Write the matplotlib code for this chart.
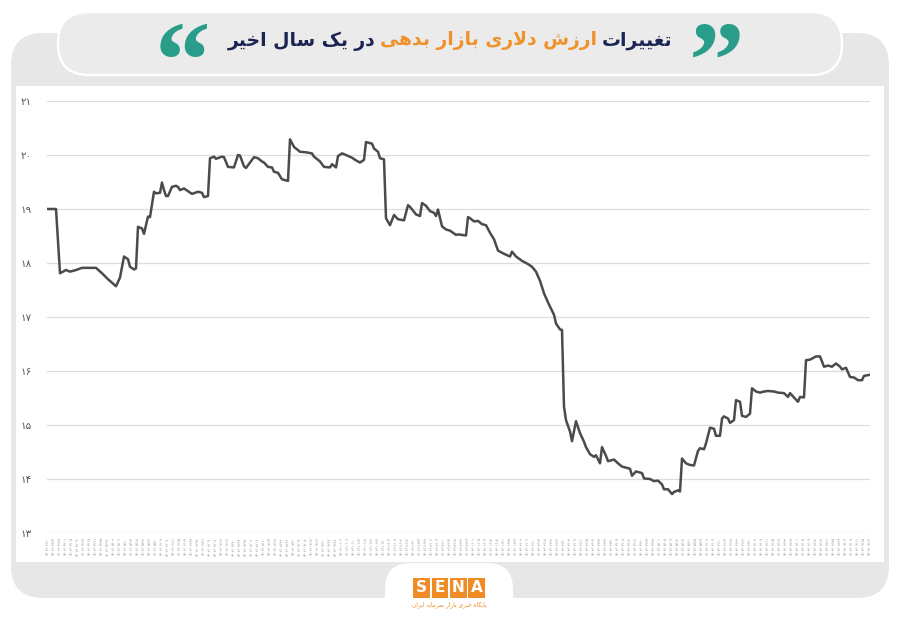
"""
Debt market dollar value over the last year (SENA style card).
"""

import matplotlib
matplotlib.use("Agg")
import matplotlib.pyplot as plt
from matplotlib.patches import FancyBboxPatch, Rectangle

W, H = 900, 623

# ── data (trading-day index, value) ─────────────────────────────────────────
DAYS = [
    0, 4, 6, 9, 11, 14, 17, 24, 27, 30, 34, 36, 38, 40, 41, 43, 44, 45, 47, 48,
    50, 51, 53, 54, 56, 57, 58, 59, 60, 62, 64, 65, 66, 68, 70, 72, 75, 77, 78,
    80, 81, 83, 84, 87, 88, 90, 93, 95, 96, 98, 99, 101, 103, 105, 107, 108,
    110, 112, 113, 115, 117, 120, 121, 123, 126, 129, 132, 133, 136, 138, 141,
    142, 144, 145, 147, 149, 152, 154, 156, 158, 159, 162, 163, 165, 166, 168,
    169, 171, 173, 175, 178, 180, 181, 184, 186, 187, 189, 191, 193, 194, 195,
    197, 199, 201, 204, 205, 209, 210, 211, 213, 215, 217, 219, 221, 223, 225,
    228, 231, 232, 234, 237, 240, 242, 244, 246, 248, 250, 253, 254, 256, 257,
    258, 259, 261, 262, 264, 266, 268, 269, 271, 273, 274, 276, 277, 279, 280,
    283, 285, 287, 289, 291, 292, 294, 297, 298, 301, 303, 305, 307, 308, 310,
    312, 313, 315, 316, 317, 319, 321, 323, 325, 326, 328, 329, 331, 333, 334,
    336, 337, 338, 340, 341, 343, 344, 346, 347, 349, 351, 352, 354, 356, 358,
    360, 363, 365, 368, 370, 371, 373, 375, 376, 378, 379, 381, 384, 386, 388,
    390, 392, 394, 396, 397, 399, 401, 403, 405, 407, 408, 411,
]
VALUES = [
    19.00, 19.00, 17.81, 17.87, 17.84, 17.87, 17.91, 17.91, 17.81, 17.70,
    17.57, 17.73, 18.12, 18.07, 17.93, 17.88, 17.90, 18.67, 18.64, 18.54,
    18.86, 18.85, 19.32, 19.29, 19.30, 19.49, 19.35, 19.24, 19.24, 19.41,
    19.43, 19.41, 19.35, 19.38, 19.33, 19.28, 19.32, 19.30, 19.22, 19.24,
    19.94, 19.97, 19.93, 19.97, 19.96, 19.78, 19.77, 20.00, 19.99, 19.79,
    19.76, 19.86, 19.96, 19.94, 19.88, 19.86, 19.78, 19.77, 19.69, 19.67,
    19.55, 19.52, 20.29, 20.15, 20.06, 20.05, 20.03, 19.97, 19.88, 19.78,
    19.77, 19.83, 19.77, 19.98, 20.03, 20.00, 19.95, 19.90, 19.86, 19.91,
    20.24, 20.21, 20.12, 20.06, 19.94, 19.92, 18.83, 18.70, 18.89, 18.81,
    18.79, 19.07, 19.04, 18.90, 18.87, 19.11, 19.06, 18.96, 18.93, 18.87,
    18.99, 18.68, 18.62, 18.60, 18.52, 18.53, 18.51, 18.85, 18.83, 18.77,
    18.78, 18.72, 18.70, 18.56, 18.44, 18.23, 18.17, 18.12, 18.21, 18.12,
    18.04, 17.98, 17.93, 17.84, 17.67, 17.44, 17.27, 17.04, 16.88, 16.77,
    16.76, 15.34, 15.09, 14.88, 14.70, 15.07, 14.85, 14.69, 14.59, 14.46,
    14.41, 14.44, 14.29, 14.59, 14.43, 14.33, 14.36, 14.29, 14.23, 14.21,
    14.19, 14.06, 14.14, 14.11, 14.01, 14.00, 13.96, 13.97, 13.90, 13.81,
    13.81, 13.72, 13.76, 13.79, 13.77, 14.38, 14.29, 14.26, 14.25, 14.52,
    14.57, 14.55, 14.66, 14.95, 14.93, 14.80, 14.80, 15.12, 15.16, 15.12,
    15.04, 15.09, 15.46, 15.43, 15.17, 15.15, 15.21, 15.68, 15.62, 15.60,
    15.62, 15.63, 15.62, 15.60, 15.59, 15.52, 15.59, 15.51, 15.43, 15.52,
    15.51, 16.20, 16.21, 16.27, 16.27, 16.08, 16.10, 16.08, 16.14, 16.08,
    16.03, 16.06, 15.89, 15.88, 15.83, 15.83, 15.91, 15.93,
]
Y_TICKS = [13, 14, 15, 16, 17, 18, 19, 20, 21]
TICK_STEP = 3            # one date label every 3 trading days
START_DATE = (1402, 3, 20)

TITLE_PARTS = [          # right to left
    ("تغییرات", "#1c2551"),
    ("ارزش دلاری بازار بدهی", "#f0922b"),
    ("در یک سال اخیر", "#1c2551"),
]
LOGO_LETTERS = ["S", "E", "N", "A"]
LOGO_SUB = "پایگاه خبری بازار سرمایه ایران"

ORANGE = "#f08c25"
TEAL = "#2a9d8a"
PANEL = "#e7e7e8"
LINE = "#4b4b4b"


# ── helpers ──────────────────────────────────────────────────────────────────
FORMS = {   # isolated, final, initial, medial
    "\u0627": ("\uFE8D", "\uFE8E", None, None),
    "\u0628": ("\uFE8F", "\uFE90", "\uFE91", "\uFE92"),
    "\u067E": ("\uFB56", "\uFB57", "\uFB58", "\uFB59"),
    "\u062A": ("\uFE95", "\uFE96", "\uFE97", "\uFE98"),
    "\u062E": ("\uFEA5", "\uFEA6", "\uFEA7", "\uFEA8"),
    "\u062F": ("\uFEA9", "\uFEAA", None, None),
    "\u0631": ("\uFEAD", "\uFEAE", None, None),
    "\u0632": ("\uFEAF", "\uFEB0", None, None),
    "\u0633": ("\uFEB1", "\uFEB2", "\uFEB3", "\uFEB4"),
    "\u0634": ("\uFEB5", "\uFEB6", "\uFEB7", "\uFEB8"),
    "\u063A": ("\uFECD", "\uFECE", "\uFECF", "\uFED0"),
    "\u0644": ("\uFEDD", "\uFEDE", "\uFEDF", "\uFEE0"),
    "\u0645": ("\uFEE1", "\uFEE2", "\uFEE3", "\uFEE4"),
    "\u0646": ("\uFEE5", "\uFEE6", "\uFEE7", "\uFEE8"),
    "\u0647": ("\uFEE9", "\uFEEA", "\uFEEB", "\uFEEC"),
    "\u06A9": ("\uFB8E", "\uFB8F", "\uFB90", "\uFB91"),
    "\u06AF": ("\uFB92", "\uFB93", "\uFB94", "\uFB95"),
    "\u06CC": ("\uFBFC", "\uFBFD", "\uFBFE", "\uFBFF"),
}


def shape(text):
    """Minimal Persian shaping + visual (LTR) ordering."""
    ch = list(text)
    out = []
    i = 0
    while i < len(ch):
        c = ch[i]
        if c not in FORMS:
            out.append(c)
            i += 1
            continue
        prev = ch[i - 1] if i > 0 else None
        joins_prev = prev in FORMS and FORMS[prev][2] is not None
        if c == "\u0644" and i + 1 < len(ch) and ch[i + 1] == "\u0627":
            out.append("\uFEFC" if joins_prev else "\uFEFB")
            i += 2
            continue
        nxt = ch[i + 1] if i + 1 < len(ch) else None
        joins_next = FORMS[c][2] is not None and nxt in FORMS
        iso, fin, ini, med = FORMS[c]
        out.append(med if joins_prev and joins_next else
                   fin if joins_prev else ini if joins_next else iso)
        i += 1
    return "".join(reversed(out))


def fa_digits(s):
    return "".join(chr(0x06F0 + int(c)) if c.isdigit() else c for c in str(s))


def jalali_labels(start, n, step):
    y, m, d = start
    labels = []
    for _ in range(n):
        labels.append(fa_digits(f"{y}/{m:02d}/{d:02d}"))
        for _ in range(step + 1):   # trading days -> calendar days (rough)
            d += 1
            mlen = 31 if m <= 6 else (30 if m <= 11 else 29)
            if d > mlen:
                d = 1
                m += 1
                if m > 12:
                    m = 1
                    y += 1
    return labels


def px_box(fig, x0, y0, x1, y1, r, **kw):
    p = FancyBboxPatch((x0 / 100, (H - y1) / 100), (x1 - x0) / 100,
                       (y1 - y0) / 100,
                       boxstyle=f"round,pad=0,rounding_size={r / 100}",
                       transform=fig.dpi_scale_trans, **kw)
    fig.patches.append(p)
    return p


# ── figure ───────────────────────────────────────────────────────────────────
plt.rcParams["font.family"] = ["DejaVu Sans"]
fig = plt.figure(figsize=(W / 100, H / 100), dpi=100, facecolor="white")

# card background
px_box(fig, 11, 33, 889, 598, 32, facecolor=PANEL, edgecolor="none", zorder=1)
# title pill
px_box(fig, 58, 12, 842, 75, 31, facecolor="#ebebec", edgecolor="white",
       linewidth=1.8, zorder=2)
# white chart area
fig.patches.append(Rectangle((16 / 100, (H - 562) / 100), 868 / 100, 476 / 100,
                             transform=fig.dpi_scale_trans,
                             facecolor="white", edgecolor="none", zorder=2))
# logo tab
px_box(fig, 385, 563, 513, 640, 26, facecolor="white", edgecolor="none",
       zorder=3)

# ── chart ────────────────────────────────────────────────────────────────────
ax = fig.add_axes([47 / W, 1 - 533 / H, (870 - 47) / W, (533 - 101) / H])
ax.set_zorder(5)
ax.set_facecolor("none")
ax.plot(DAYS, VALUES, color=LINE, linewidth=1.8, solid_joinstyle="round",
        zorder=4)

ax.set_ylim(13, 21)
ax.set_xlim(-0.5, DAYS[-1])
ax.set_yticks(Y_TICKS)
ax.set_yticklabels([fa_digits(v) for v in Y_TICKS], fontsize=7.5,
                   color="#555555")
ax.yaxis.grid(True, color="#dddddd", linewidth=0.9)
ax.set_axisbelow(True)

n_ticks = DAYS[-1] // TICK_STEP + 1
xt = [i * TICK_STEP for i in range(n_ticks)]
ax.set_xticks(xt)
ax.set_xticklabels(jalali_labels(START_DATE, n_ticks, TICK_STEP),
                   rotation=90, fontsize=2.6, color="#8a8a8a")
ax.tick_params(axis="both", length=0)
ax.tick_params(axis="y", pad=11)
ax.tick_params(axis="x", pad=3)
for s in ax.spines.values():
    s.set_visible(False)

# ── title ────────────────────────────────────────────────────────────────────
renderer = fig.canvas.get_renderer()
title_y = 1 - 41 / H
texts = []
for part, col in TITLE_PARTS:
    t = fig.text(0, title_y, shape(part), color=col, fontsize=13.5,
                 fontweight="bold", ha="right", va="center", zorder=10)
    texts.append(t)
widths = [t.get_window_extent(renderer).width / W for t in texts]
gap = 5 / W
total = sum(widths) + gap * (len(widths) - 1)
right = 0.5 + total / 2
for t, w in zip(texts, widths):
    t.set_x(right)
    right -= w + gap

# quote marks
fig.text(182 / W, 1 - 97 / H, "\u201C", color=TEAL, fontsize=80,
         family="Liberation Serif", fontweight="bold", ha="center",
         va="baseline", zorder=10)
fig.text(717 / W, 1 - 97 / H, "\u201D", color=TEAL, fontsize=80,
         family="Liberation Serif", fontweight="bold", ha="center",
         va="baseline", zorder=10)

# ── logo ─────────────────────────────────────────────────────────────────────
bw, gapx, x0 = 16.5, 2, 413
for i, letter in enumerate(LOGO_LETTERS):
    lx = x0 + i * (bw + gapx)
    fig.patches.append(Rectangle((lx / 100, (H - 598) / 100), bw / 100,
                                 20 / 100, transform=fig.dpi_scale_trans,
                                 facecolor=ORANGE, edgecolor="none",
                                 zorder=4))
    fig.text((lx + bw / 2) / W, 1 - 588 / H, letter, color="white",
             fontsize=11, fontweight="bold", ha="center", va="center",
             zorder=10)
fig.text(449 / W, 1 - 605 / H, shape(LOGO_SUB), color=ORANGE, fontsize=4.2,
         ha="center", va="center", zorder=10)

fig.savefig("out.png", dpi=100, facecolor="white")
